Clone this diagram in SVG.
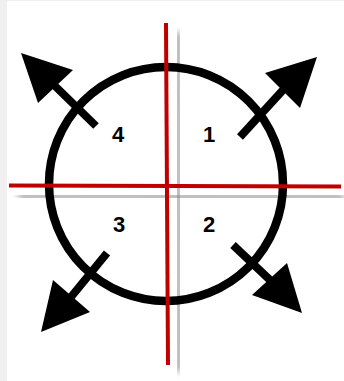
<svg xmlns="http://www.w3.org/2000/svg" width="344" height="381" viewBox="0 0 344 381">
  <defs>
    <filter id="blur" x="-20%" y="-20%" width="140%" height="140%">
      <feGaussianBlur stdDeviation="3"/>
    </filter>
    <style>
      .shaft { stroke: #000; stroke-width: 8; fill: none; }
      .head { fill: #000; }
      .axis { stroke: #c00000; stroke-width: 4; }
      .shadow { stroke: #888888; stroke-width: 7; filter: url(#blur); opacity: 0.75; }
      .lbl { font-family: "Liberation Sans", Arial, sans-serif; font-weight: bold; font-size: 22px; fill: #000; text-anchor: middle; }
    </style>
  </defs>
  <rect x="0" y="0" width="344" height="381" fill="#f0f0f0"/>
  <rect x="7" y="1" width="337" height="380" fill="#ffffff"/>

  <g id="shadows">
    <line class="shadow" x1="178" y1="32" x2="179" y2="372"/>
    <line class="shadow" x1="18" y1="196" x2="344" y2="197"/>
  </g>

  <g id="circle">
    <circle cx="166" cy="184" r="117" fill="none" stroke="#000" stroke-width="8.5"/>
  </g>

  <g id="connectors">
    <g id="arrow1">
      <line class="shaft" x1="240" y1="137" x2="283" y2="90"/>
      <polygon class="head" points="317,57 265,73 300,108"/>
    </g>
    <g id="arrow4">
      <line class="shaft" x1="96" y1="126" x2="55" y2="86"/>
      <polygon class="head" points="21,53 73,70 38,103"/>
    </g>
    <g id="arrow3">
      <line class="shaft" x1="107" y1="253" x2="71" y2="297"/>
      <polygon class="head" points="41,332 53,280 90,312"/>
    </g>
    <g id="arrow2">
      <line class="shaft" x1="233" y1="245" x2="270" y2="280"/>
      <polygon class="head" points="302,313 287,263 252,295"/>
    </g>
  </g>

  <g id="axes">
    <line class="axis" x1="166" y1="23" x2="168" y2="365"/>
    <line class="axis" x1="9" y1="185.5" x2="341" y2="186.5"/>
  </g>

  <g id="label1"><text class="lbl" x="209" y="142">1</text></g>
  <g id="label2"><text class="lbl" x="209" y="232">2</text></g>
  <g id="label3"><text class="lbl" x="119" y="232">3</text></g>
  <g id="label4"><text class="lbl" x="118" y="142">4</text></g>
</svg>
